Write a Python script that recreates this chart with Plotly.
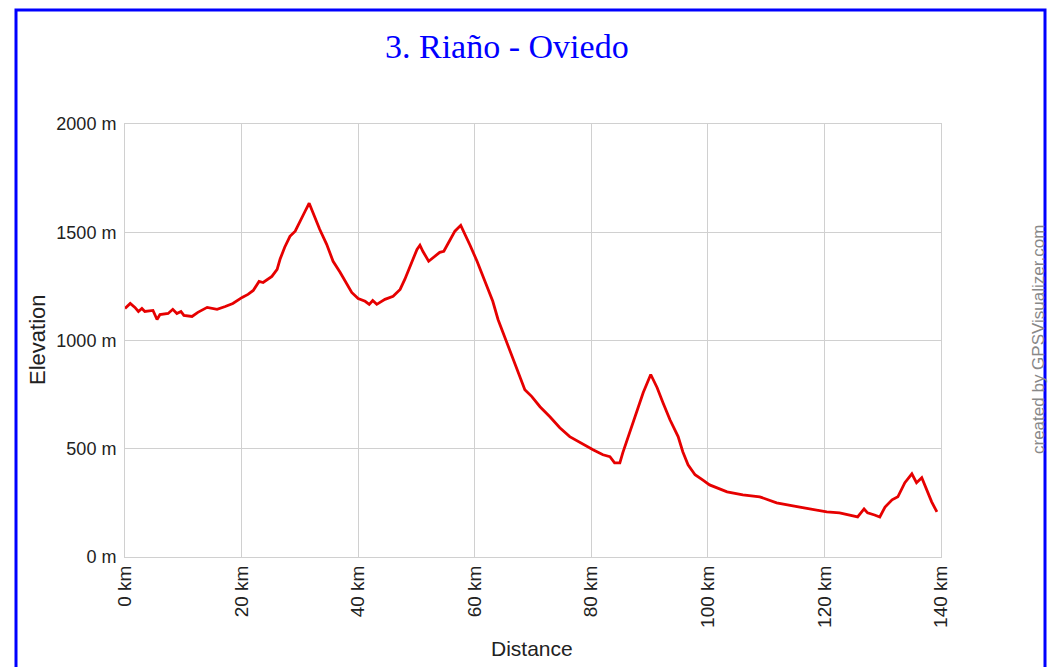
import plotly.graph_objects as go

distance_km = [0.0, 0.9, 1.7, 2.3, 2.9, 3.4, 4.8, 5.5, 6.0, 7.4, 8.2, 8.9, 9.6, 10.1, 11.5, 12.5,
               14.1, 15.8, 17.2, 18.5, 20.1, 21.1, 22.0, 23.0, 23.7, 25.2, 26.1, 26.6, 27.4, 28.3,
               29.2, 30.0, 30.9, 31.6, 32.2, 33.4, 34.6, 35.7, 36.9, 38.1, 38.9, 40.0, 41.2, 41.9,
               42.5, 43.2, 44.6, 46.0, 47.2, 48.0, 48.9, 50.1, 50.6, 51.1, 52.1, 53.2, 54.0, 54.7,
               55.7, 56.6, 57.6, 58.1, 59.2, 60.4, 61.4, 62.3, 63.1, 64.0, 65.2, 66.6, 67.8, 68.6,
               69.8, 71.2, 72.9, 74.6, 76.3, 78.4, 80.3, 82.0, 83.2, 84.0, 84.9, 85.4, 86.6, 87.8,
               88.9, 90.2, 91.3, 92.3, 93.5, 94.9, 95.7, 96.6, 97.8, 99.1, 100.3, 103.3, 106.0,
               108.9, 111.8, 114.6, 117.5, 120.4, 122.6, 124.4, 125.7, 126.8, 127.4, 128.6, 129.5,
               130.4, 131.6, 132.6, 133.8, 135.0, 135.8, 136.7, 137.6, 138.4, 139.3]
elevation_m = [1148, 1171, 1153, 1134, 1148, 1134, 1139, 1097, 1120, 1125, 1144, 1125, 1134, 1116,
               1111, 1130, 1153, 1144, 1157, 1171, 1199, 1213, 1231, 1273, 1268, 1296, 1329, 1375,
               1431, 1481, 1505, 1551, 1597, 1634, 1593, 1514, 1444, 1366, 1315, 1259, 1222, 1194,
               1181, 1167, 1185, 1167, 1190, 1204, 1236, 1282, 1343, 1421, 1440, 1412, 1366, 1389,
               1407, 1412, 1458, 1505, 1532, 1505, 1440, 1366, 1296, 1236, 1181, 1097, 1014, 912,
               833, 773, 741, 694, 648, 597, 556, 523, 495, 472, 463, 435, 435, 481, 574, 667, 759,
               843, 782, 713, 634, 556, 486, 426, 380, 356, 333, 301, 287, 278, 250, 236, 222, 208,
               204, 194, 185, 222, 204, 194, 185, 231, 264, 278, 343, 384, 343, 366, 310, 255, 208]

x_tick_vals = [0, 20, 40, 60, 80, 100, 120, 140]
x_tick_text = ["0 km", "20 km", "40 km", "60 km", "80 km", "100 km", "120 km", "140 km"]
y_tick_vals = [0, 500, 1000, 1500, 2000]
y_tick_text = ["0 m", "500 m", "1000 m", "1500 m", "2000 m"]

title_text = "3. Riaño - Oviedo"

W, H = 1048, 667
L, R, T, B = 125, 941, 124, 557  # plot area pixel bounds
pw, ph = R - L, B - T


def px(xs):  # pixel x -> paper
    return (xs - L) / pw


def py(ys):  # pixel y -> paper
    return (B - ys) / ph


fig = go.Figure()
fig.add_trace(go.Scatter(
    x=distance_km, y=elevation_m, mode="lines",
    line=dict(color="#e60000", width=2.8), hoverinfo="x+y", showlegend=False,
))

grid = "#d0d0d0"
font_sans = "Liberation Sans, Arial, sans-serif"
fig.update_layout(
    width=W, height=H, autosize=False,
    margin=dict(l=L, r=W - R, t=T, b=H - B, pad=0),
    paper_bgcolor="white", plot_bgcolor="white",
    font=dict(family=font_sans, color="#222222"),
    xaxis=dict(range=[0, 140], tickvals=x_tick_vals, ticktext=x_tick_text, tickangle=-90,
               showgrid=True, gridcolor=grid, gridwidth=1, zeroline=False,
               showline=True, linecolor=grid, linewidth=1, mirror=True,
               ticks="", tickfont=dict(size=19, color="#222222"), fixedrange=True),
    yaxis=dict(range=[0, 2000], tickvals=y_tick_vals, ticktext=y_tick_text,
               showgrid=True, gridcolor=grid, gridwidth=1, zeroline=False,
               showline=True, linecolor=grid, linewidth=1, mirror=True,
               ticks="outside", ticklen=4, tickcolor="rgba(0,0,0,0)",
               tickfont=dict(size=18, color="#222222"), fixedrange=True),
    shapes=[dict(type="rect", xref="paper", yref="paper",
                 x0=px(16), x1=px(1045), y0=py(720), y1=py(10),
                 line=dict(color="#0000ff", width=3), fillcolor="rgba(0,0,0,0)", layer="above")],
    annotations=[
        dict(text=title_text, xref="paper", yref="paper", x=px(507), y=py(47),
             xanchor="center", yanchor="middle", showarrow=False,
             font=dict(family="Liberation Serif, Times New Roman, serif", size=34, color="#0000ff")),
        dict(text="Elevation", xref="paper", yref="paper", x=px(37), y=py(340),
             xanchor="center", yanchor="middle", showarrow=False, textangle=-90,
             font=dict(family=font_sans, size=22, color="#222222")),
        dict(text="Distance", xref="paper", yref="paper", x=px(532), y=py(648),
             xanchor="center", yanchor="middle", showarrow=False,
             font=dict(family=font_sans, size=21, color="#222222")),
        dict(text="created by GPSVisualizer.com", xref="paper", yref="paper", x=px(1038), y=py(340),
             xanchor="center", yanchor="middle", showarrow=False, textangle=-90,
             font=dict(family=font_sans, size=17, color="#888888")),
    ],
)

# Remove the default page margin so the 1048x667 figure fills the window exactly
fig.write_html("out.html", config={"displayModeBar": False},
               post_script="document.body.style.margin='0px';")
